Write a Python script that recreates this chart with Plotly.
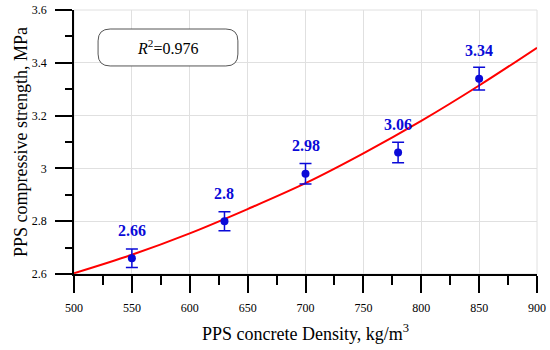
import plotly.graph_objects as go

density = [550, 630, 700, 780, 850]
strength = [2.66, 2.80, 2.98, 3.06, 3.34]
err = [0.035, 0.036, 0.039, 0.039, 0.043]
labels = ["2.66", "2.8", "2.98", "3.06", "3.34"]

fit_x = [500, 550, 600, 650, 700, 750, 800, 850, 900]
fit_y = [2.603, 2.673, 2.754, 2.846, 2.944, 3.057, 3.180, 3.314, 3.457]

x_ticks = [500, 550, 600, 650, 700, 750, 800, 850, 900]
y_ticks = [2.6, 2.8, 3.0, 3.2, 3.4, 3.6]
y_tick_text = ["2.6", "2.8", "3", "3.2", "3.4", "3.6"]

FONT = "Liberation Serif"
BLUE = "#0a0ad8"

fig = go.Figure()
fig.add_trace(go.Scatter(x=fit_x, y=fit_y, mode="lines", line=dict(color="#ff0000", width=2, shape="spline"),
                         showlegend=False, hoverinfo="skip", cliponaxis=False))
fig.add_trace(go.Scatter(x=density, y=strength, mode="markers",
                         marker=dict(color=BLUE, size=8),
                         error_y=dict(type="data", array=err, color=BLUE, thickness=1.5, width=6),
                         showlegend=False))

for x, y, t in zip(density, strength, labels):
    fig.add_annotation(x=x, y=y, text="<b>%s</b>" % t, showarrow=False, yshift=28,
                       xanchor="center", yanchor="middle",
                       font=dict(family=FONT, size=16, color=BLUE))

# R^2 box (rounded rectangle)
x0, x1, y0, y1 = 0.052, 0.354, 0.788, 0.928
rx, ry = 0.026, 0.045
path = (f"M {x0+rx},{y0} L {x1-rx},{y0} Q {x1},{y0} {x1},{y0+ry} L {x1},{y1-ry} "
        f"Q {x1},{y1} {x1-rx},{y1} L {x0+rx},{y1} Q {x0},{y1} {x0},{y1-ry} L {x0},{y0+ry} "
        f"Q {x0},{y0} {x0+rx},{y0} Z")
fig.add_shape(type="path", path=path, xref="paper", yref="paper",
              line=dict(color="#555555", width=1), fillcolor="rgba(255,255,255,1)", layer="above")
fig.add_annotation(x=(x0+x1)/2, y=(y0+y1)/2, xref="paper", yref="paper",
                   xanchor="center", yanchor="middle",
                   text="<i>R</i><sup>2</sup>=0.976", showarrow=False,
                   font=dict(family=FONT, size=16, color="black"))

fig.update_layout(
    width=550, height=350,
    margin=dict(l=74, r=13, t=10, b=76),
    paper_bgcolor="white", plot_bgcolor="white",
    font=dict(family=FONT, color="black"),
    xaxis=dict(range=[500, 900], tickvals=x_ticks, showgrid=True, gridcolor="#e0e0e0", gridwidth=1,
               showline=True, linecolor="black", linewidth=1.5, ticks="outside", ticklen=17, tickwidth=1.5,
               tickcolor="black", tickfont=dict(size=12, family=FONT), ticklabelstandoff=5,
               minor=dict(dtick=25, ticks="outside", ticklen=9, tickwidth=1.5, tickcolor="black", showgrid=False),
               title=dict(text="PPS concrete Density, kg/m<sup>3</sup>", font=dict(size=18, family=FONT), standoff=13),
               zeroline=False, automargin=False),
    yaxis=dict(range=[2.6, 3.6], tickvals=y_ticks, ticktext=y_tick_text, showgrid=True, gridcolor="#e0e0e0",
               showline=True, linecolor="black", linewidth=1.5, ticks="outside", ticklen=17, tickwidth=1.5,
               tickcolor="black", tickfont=dict(size=12, family=FONT), ticklabelstandoff=6,
               minor=dict(dtick=0.1, ticks="outside", ticklen=7, tickwidth=1.5, tickcolor="black", showgrid=False),
               title=dict(text="PPS compressive strength, MPa", font=dict(size=18, family=FONT), standoff=0),
               zeroline=False, automargin=False),
)
fig.add_shape(type="rect", xref="paper", yref="paper", x0=0, x1=1, y0=0, y1=1,
              line=dict(color="#e0e0e0", width=1), layer="below")

fig.write_html("out.html", config={"displayModeBar": False},
               post_script="document.body.style.margin='0';document.body.style.overflow='hidden';")
